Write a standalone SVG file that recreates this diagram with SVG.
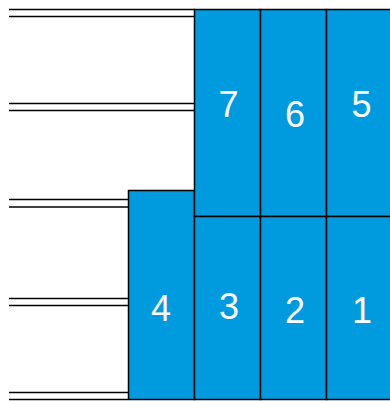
<svg xmlns="http://www.w3.org/2000/svg" width="390" height="401" viewBox="0 0 390 401">
<style>
.box{fill:#009ADE;stroke:#000;stroke-width:1.5}
.lbl{fill:#fff;font-family:"Liberation Sans",Arial,sans-serif;font-size:36px;text-anchor:middle}
.ln{stroke:#000;stroke-width:1.5;fill:none}
</style>
<rect width="390" height="401" fill="#fff"/>
<g id="connectors">
<line class="ln" x1="9" y1="9.5" x2="195" y2="9.5"/>
<line class="ln" x1="9" y1="16.5" x2="195" y2="16.5"/>
<line class="ln" x1="9" y1="103.5" x2="195" y2="103.5"/>
<line class="ln" x1="9" y1="110.5" x2="195" y2="110.5"/>
<line class="ln" x1="9" y1="199.5" x2="128" y2="199.5"/>
<line class="ln" x1="9" y1="207" x2="128" y2="207"/>
<line class="ln" x1="9" y1="298.5" x2="128" y2="298.5"/>
<line class="ln" x1="9" y1="305.5" x2="128" y2="305.5"/>
<line class="ln" x1="9" y1="392.5" x2="128" y2="392.5"/>
<line class="ln" x1="9" y1="399.5" x2="128" y2="399.5"/>
</g>
<g id="node4"><rect class="box" x="128.5" y="190.5" width="66" height="209"/><text class="lbl" x="161" y="321">4</text></g>
<g id="node7"><rect class="box" x="194.5" y="9.5" width="66" height="207"/><text class="lbl" x="228.5" y="117">7</text></g>
<g id="node6"><rect class="box" x="260.5" y="9.5" width="66" height="207"/><text class="lbl" x="295" y="127">6</text></g>
<g id="node5"><rect class="box" x="326.5" y="9.5" width="66" height="207"/><text class="lbl" x="361.5" y="117">5</text></g>
<g id="node3"><rect class="box" x="194.5" y="216.5" width="66" height="183"/><text class="lbl" x="229" y="318.5">3</text></g>
<g id="node2"><rect class="box" x="260.5" y="216.5" width="66" height="183"/><text class="lbl" x="295" y="323">2</text></g>
<g id="node1"><rect class="box" x="326.5" y="216.5" width="66" height="183"/><text class="lbl" x="362" y="322.5">1</text></g>
</svg>
